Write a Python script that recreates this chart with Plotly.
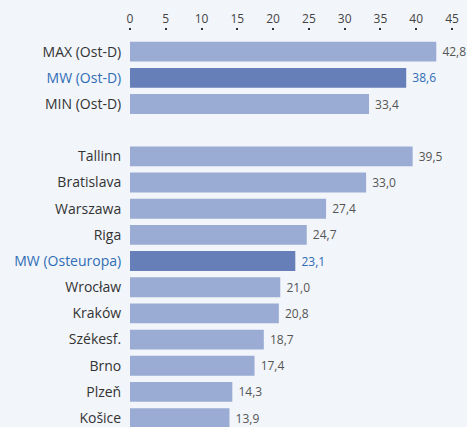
import plotly.graph_objects as go

categories = ["MAX (Ost-D)", "MW (Ost-D)", "MIN (Ost-D)", " ",
              "Tallinn", "Bratislava", "Warszawa", "Riga", "MW (Osteuropa)",
              "Wrocław", "Kraków", "Székesf.", "Brno", "Plzeň", "Košice"]
values = [42.8, 38.6, 33.4, None,
          39.5, 33.0, 27.4, 24.7, 23.1,
          21.0, 20.8, 18.7, 17.4, 14.3, 13.9]
highlight = ["MW (Ost-D)", "MW (Osteuropa)"]
x_ticks = [0, 5, 10, 15, 20, 25, 30, 35, 40, 45]

BG = "#f2f5fa"
LIGHT = "#9aabd4"
DARK = "#677fb8"
BLUE = "#2f6db5"
TXT = "#333333"

bar_colors = [DARK if c in highlight else LIGHT for c in categories]
txt_colors = [BLUE if c in highlight else "#555555" for c in categories]
texts = ["" if v is None else "\u00a0" + f"{v:.1f}".replace(".", ",") for v in values]
ticktext = [f"<span style='color:{BLUE}'>{c}</span>" if c in highlight else c for c in categories]

fig = go.Figure(go.Bar(
    x=values, y=categories, orientation="h",
    marker=dict(color=bar_colors, line=dict(width=0)),
    text=texts, textposition="outside", cliponaxis=False,
    textfont=dict(color=txt_colors, size=12, family="Open Sans"),
    hoverinfo="skip",
))

fig.update_layout(
    width=467, height=427,
    margin=dict(l=130, r=15, t=31, b=0),
    paper_bgcolor=BG, plot_bgcolor=BG,
    bargap=0.24,
    showlegend=False,
    font=dict(family="Open Sans", color=TXT, size=14),
    xaxis=dict(side="top", range=[0, 45], tickvals=x_ticks,
               ticks="outside", ticklen=2, tickwidth=2, tickcolor="#333333",
               showgrid=False, zeroline=False, showline=False,
               tickfont=dict(size=12, color="#444444")),
    yaxis=dict(type="category", categoryorder="array", categoryarray=categories,
               tickvals=categories, ticktext=ticktext,
               range=[14.34, -0.79], ticks="outside", ticklen=5,
               tickcolor="rgba(0,0,0,0)", showgrid=False, zeroline=False,
               showline=False, tickfont=dict(size=14, color=TXT)),
)

fig.write_html(
    "out.html",
    config={"displayModeBar": False},
    post_script=f"document.body.style.margin='0';document.body.style.background='{BG}';"
                "document.body.style.overflow='hidden';",
)
